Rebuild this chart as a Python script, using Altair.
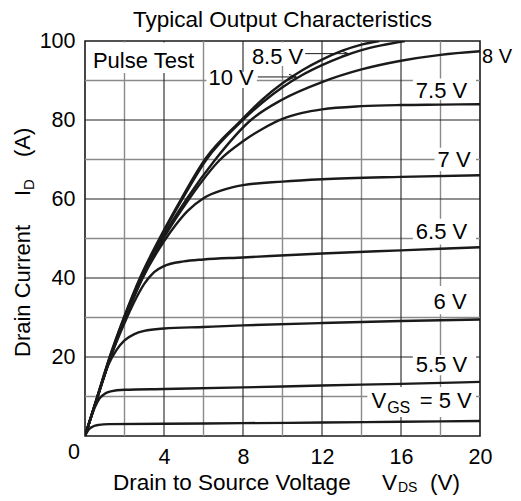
import altair as alt
import pandas as pd

FONT = "Liberation Sans"
INK = "#1a1a1a"

# ---- curve data (VDS in V, ID in A) ----
vgs_names = ["10 V", "8.5 V", "8 V", "7.5 V", "7 V", "6.5 V", "6 V", "5.5 V", "5 V"]

vds_10 = [0, 0.62, 1.25, 1.97, 2.78, 3.77, 4.87, 6.07, 7.92, 9, 10, 11, 12, 13, 14, 14.9]
id_10 = [0, 10, 20, 30, 40, 50, 60, 70, 80, 85.3, 89.3, 92.6, 95.3, 97.5, 99.1, 100]

vds_85 = [0, 0.63, 1.26, 1.99, 2.81, 3.81, 4.93, 6.15, 8.0, 9, 10, 11, 12, 13, 14, 15, 16.2]
id_85 = [0, 10, 20, 30, 40, 50, 60, 70, 80, 84.5, 88.3, 91.4, 93.9, 96.0, 97.7, 98.9, 100]

vds_8 = [0, 0.64, 1.28, 2.02, 2.86, 3.9, 5.15, 6.6, 8.4, 10, 12, 14, 16, 18, 20]
id_8 = [0, 10, 20, 30, 40, 50, 60, 70, 80, 85.2, 89.6, 92.8, 95.0, 96.5, 97.4]

vds_75 = [0, 0.64, 1.29, 2.04, 2.9, 3.97, 5.27, 6.85, 8, 9, 10, 11, 12, 14, 16, 18, 20]
id_75 = [0, 10, 20, 30, 40, 50, 60, 70, 74.6, 77.8, 80.3, 81.8, 82.7, 83.5, 83.8, 83.9, 84.0]

vds_7 = [0, 0.64, 1.29, 2.05, 2.92, 4.0, 4.6, 5.2, 6, 7, 8, 10, 12, 16, 20]
id_7 = [0, 10, 20, 30, 40, 49.3, 53.5, 57.0, 60.2, 62.3, 63.5, 64.4, 65.0, 65.6, 66.0]

vds_65 = [0, 0.64, 1.3, 2.08, 2.6, 3.0, 3.5, 4, 5, 6, 8, 12, 16, 20]
id_65 = [0, 10, 20, 29.5, 35, 38.5, 41.5, 43.0, 44.2, 44.7, 45.2, 46.2, 47.0, 47.8]

vds_6 = [0, 0.64, 1.2, 1.6, 2.0, 2.5, 3, 4, 6, 8, 12, 16, 20]
id_6 = [0, 10, 18.2, 21.8, 24.2, 25.8, 26.6, 27.2, 27.6, 28.0, 28.6, 29.1, 29.5]

vds_55 = [0, 0.5, 0.75, 1.0, 1.3, 2, 4, 8, 12, 16, 20]
id_55 = [0, 7.3, 9.6, 10.7, 11.3, 11.7, 11.9, 12.3, 12.8, 13.2, 13.7]

vds_5 = [0, 0.2, 0.4, 0.7, 1.2, 4, 8, 12, 16, 20]
id_5 = [0, 1.7, 2.4, 2.8, 3.0, 3.1, 3.25, 3.4, 3.6, 3.8]

curve_x = [vds_10, vds_85, vds_8, vds_75, vds_7, vds_65, vds_6, vds_55, vds_5]
curve_y = [id_10, id_85, id_8, id_75, id_7, id_65, id_6, id_55, id_5]

# ---- axes / grid ----
x_ticks = [4, 8, 12, 16, 20]
y_ticks = [20, 40, 60, 80, 100]
grid_x_major = [4, 8, 12, 16]
grid_x_minor = [2, 6, 10, 14, 18]
grid_y_major = [20, 40, 60, 80]
grid_y_minor = [10, 30, 50, 70, 90]

# ---- in-plot labels (left x in V, centre y in A) and their white boxes ----
label_text = ["Pulse Test", "8.5 V", "10 V", "7.5 V", "7 V", "6.5 V", "6 V", "5.5 V"]
label_x = [0.4, 8.45, 6.25, 16.75, 17.85, 16.75, 17.65, 16.75]
label_y = [94.9, 96.0, 90.6, 87.3, 69.9, 51.6, 34.0, 18.0]

# label outside the frame (8 V curve)
out_text = ["8 V"]
out_x = [20.1]
out_y = [96.0]

box_x0 = [0.05, 8.3, 6.15, 16.6, 17.7, 16.6, 17.5, 16.6, 14.3]
box_x1 = [5.8, 11.2, 8.7, 19.8, 19.8, 19.8, 19.6, 19.8, 19.8]
box_y0 = [91.9, 93.7, 88.1, 85.1, 67.0, 48.5, 30.8, 15.4, 4.8]
box_y1 = [99.6, 99.6, 92.2, 90.5, 73.0, 55.0, 38.0, 20.5, 12.4]

# VGS = 5 V label pieces
vgs_text = ["V", "GS", "= 5 V"]
vgs_x = [14.5, 15.3, 16.95]
vgs_y = [8.8, 7.0, 8.8]
vgs_size = [22, 16, 22]

# arrows
arrow_x0 = [11.15, 8.75]
arrow_x1 = [13.35, 10.7]
arrow_y = [96.8, 90.9]

rows = []
for name, xs_, ys_ in zip(vgs_names, curve_x, curve_y):
    for a, b in zip(xs_, ys_):
        rows.append({"vgs": name, "vds": a, "id": b})
df = pd.DataFrame(rows)

W = H = 395
xsc = alt.Scale(domain=[0, 20], nice=False, zero=False)
ysc = alt.Scale(domain=[0, 100], nice=False, zero=False)
x_axis = alt.Axis(values=x_ticks, title=None, grid=False, ticks=False, domain=False, labelFlush=False,
                  labelFont=FONT, labelFontSize=21.5, labelColor="black", labelPadding=10)
y_axis = alt.Axis(values=y_ticks, title=None, grid=False, ticks=False, domain=False, labelFlush=False,
                  labelFont=FONT, labelFontSize=21.5, labelColor="black", labelPadding=10)


def X(f):
    return alt.X(f, scale=xsc, axis=x_axis)


def Y(f):
    return alt.Y(f, scale=ysc, axis=y_axis)


gx_major = alt.Chart(pd.DataFrame({"gx": grid_x_major})).mark_rule(color="#222222", strokeWidth=1.1).encode(x=X("gx:Q"))
gx_minor = alt.Chart(pd.DataFrame({"gx": grid_x_minor})).mark_rule(color="#8a8a8a", strokeWidth=1.4).encode(x=X("gx:Q"))
gy_major = alt.Chart(pd.DataFrame({"gy": grid_y_major})).mark_rule(color="#222222", strokeWidth=1.1).encode(y=Y("gy:Q"))
gy_minor = alt.Chart(pd.DataFrame({"gy": grid_y_minor})).mark_rule(color="#8a8a8a", strokeWidth=1.4).encode(y=Y("gy:Q"))

boxes = alt.Chart(pd.DataFrame({"x0": box_x0, "x1": box_x1, "y0": box_y0, "y1": box_y1})).mark_rect(
    color="white").encode(x=X("x0:Q"), x2="x1:Q", y=Y("y0:Q"), y2="y1:Q")

curves = alt.Chart(df).mark_line(color=INK, strokeWidth=2.4, interpolate="monotone", clip=True).encode(
    x=X("vds:Q"), y=Y("id:Q"), detail="vgs:N")

labels = alt.Chart(pd.DataFrame({"t": label_text, "lx": label_x, "ly": label_y})).mark_text(
    align="left", baseline="middle", font=FONT, fontSize=22, color="black").encode(
    x=X("lx:Q"), y=Y("ly:Q"), text="t:N")

out_labels = alt.Chart(pd.DataFrame({"t": out_text, "lx": out_x, "ly": out_y})).mark_text(
    align="left", baseline="middle", font=FONT, fontSize=20, color="black").encode(
    x=X("lx:Q"), y=Y("ly:Q"), text="t:N")

vgs_lab = alt.Chart(pd.DataFrame({"t": vgs_text, "lx": vgs_x, "ly": vgs_y, "s": vgs_size})).mark_text(
    align="left", baseline="middle", font=FONT, color="black").encode(
    x=X("lx:Q"), y=Y("ly:Q"), text="t:N", size=alt.Size("s:Q", scale=None, legend=None))

arrows = alt.Chart(pd.DataFrame({"ax0": arrow_x0, "ax1": arrow_x1, "ay": arrow_y})).mark_rule(
    color=INK, strokeWidth=1.0).encode(x=X("ax0:Q"), x2="ax1:Q", y=Y("ay:Q"))
heads = alt.Chart(pd.DataFrame({"ax1": arrow_x1, "ay": arrow_y})).mark_point(
    shape="M-1,-0.35L0,0L-1,0.35", filled=False, size=220, color=INK, strokeWidth=1.0, opacity=1).encode(
    x=X("ax1:Q"), y=Y("ay:Q"))


def txt(t, x, y, size=22.5, angle=0, align="left"):
    return alt.Chart(alt.Data(values=[{"t": t}])).mark_text(
        text=t, align=align, baseline="alphabetic", font=FONT, fontSize=size, color="black", angle=angle
    ).encode(x=alt.value(x), y=alt.value(y))


title = txt("Typical Output Characteristics", W / 2, -14, align="center")
xt1 = txt("Drain to Source Voltage", 28, 449)
xt2 = txt("V", 297, 449)
xt3 = txt("DS", 313, 451, size=14)
xt4 = txt("(V)", 345, 449)
yt1 = txt("Drain Current", -55, 316, size=22, angle=270)
yt2 = txt("I", -55, 155, size=22, angle=270)
yt3 = txt("D", -51, 149, size=15, angle=270)
yt4 = txt("(A)", -55, 116, size=22, angle=270)
zero = alt.Chart(alt.Data(values=[{"t": "0"}])).mark_text(
    text="0", align="center", baseline="middle", font=FONT, fontSize=21.5, color="black"
).encode(x=alt.value(-11), y=alt.value(412))

chart = alt.layer(
    gx_minor, gy_minor, gx_major, gy_major, boxes, curves, arrows, heads, labels, out_labels, vgs_lab,
    title, xt1, xt2, xt3, xt4, yt1, yt2, yt3, yt4, zero
).properties(
    width=W, height=H,
    autosize=alt.AutoSizeParams(type="none"),
    padding={"left": 77, "top": 33, "right": 33, "bottom": 60},
).configure_view(stroke=INK, strokeWidth=1.6)

chart.save("out.html", embed_options={"renderer": "svg", "actions": False})
